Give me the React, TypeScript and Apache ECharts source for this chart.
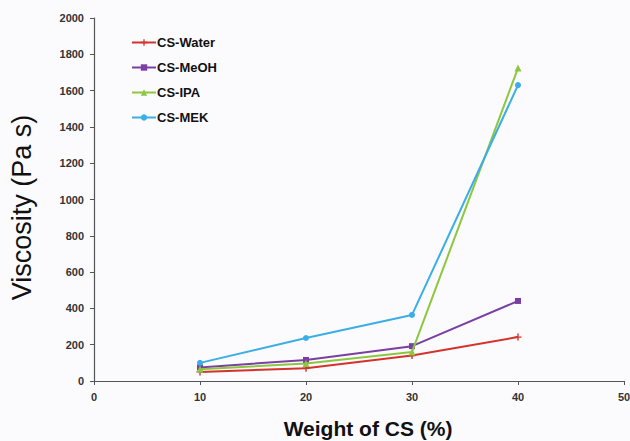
import React, { useEffect, useRef } from "react";
import * as echarts from "echarts";

const xValues = [10, 20, 30, 40];
const water = [50, 70, 140, 242];
const meoh = [75, 116, 192, 441];
const ipa = [65, 97, 160, 1724];
const mek = [100, 237, 364, 1630];
const seriesNames = ["CS-Water", "CS-MeOH", "CS-IPA", "CS-MEK"];
const seriesColors = ["#d4322c", "#7b3fa2", "#8dc63f", "#3aaee6"];

const plusPath = "path://M4,0 L6,0 L6,4 L10,4 L10,6 L6,6 L6,10 L4,10 L4,6 L0,6 L0,4 L4,4 Z";

export default function App() {
  const ref = useRef<HTMLDivElement>(null);
  useEffect(() => {
    if (!ref.current) return;
    const chart = echarts.init(ref.current, null, { renderer: "svg" });
    const datasets = [water, meoh, ipa, mek];
    const symbols = [plusPath, "rect", "triangle", "circle"];
    const sizes = [7, 6, 7, 6];
    chart.setOption({
      animation: false,
      backgroundColor: "#fbfbfd",
      textStyle: { fontFamily: "'Liberation Sans', Arial, sans-serif" },
      grid: { left: 94, right: 6, top: 18, bottom: 60, outerBoundsMode: "none", containLabel: false },
      legend: {
        orient: "vertical",
        left: 126,
        top: 31,
        itemGap: 12,
        itemWidth: 24,
        itemHeight: 8,
        data: seriesNames,
        textStyle: { fontSize: 13, fontWeight: "bold", color: "#111", padding: [0, 0, 0, -4] },
      },
      xAxis: {
        type: "value",
        min: 0,
        max: 50,
        interval: 10,
        name: "Weight of CS (%)",
        nameLocation: "middle",
        nameGap: 37,
        nameTextStyle: { fontSize: 21, fontWeight: "bold", color: "#111", padding: [0, 0, 0, 18] },
        axisLine: { lineStyle: { color: "#555", width: 1.2 } },
        axisTick: { show: true, inside: false, length: 4, lineStyle: { color: "#555" } },
        axisLabel: { fontSize: 11, fontWeight: "bold", color: "#333", margin: 10 },
        splitLine: { show: false },
      },
      yAxis: {
        type: "value",
        min: 0,
        max: 2000,
        interval: 200,
        name: "Viscosity (Pa s)",
        nameLocation: "middle",
        nameGap: 59,
        nameTextStyle: { fontSize: 27, color: "#111", padding: [0, 16, 0, 0] },
        axisLine: { show: true, lineStyle: { color: "#555", width: 1.2 } },
        axisTick: { show: true, inside: false, length: 4, lineStyle: { color: "#555" } },
        axisLabel: {
          fontSize: 11,
          fontWeight: "bold",
          color: "#333",
          margin: 10,
          formatter: (v: number) => String(v),
        },
        splitLine: { show: false },
      },
      series: datasets.map((d, i) => ({
        name: seriesNames[i],
        type: "line",
        data: xValues.map((x, j) => [x, d[j]]),
        symbol: symbols[i],
        symbolSize: sizes[i],
        showAllSymbol: true,
        lineStyle: { color: seriesColors[i], width: 2 },
        itemStyle: { color: seriesColors[i] },
        z: [2, 3, 4, 5][i],
      })),
    });
    return () => chart.dispose();
  }, []);
  return (
    <div
      ref={ref}
      style={{ position: "fixed", left: 0, top: 0, width: 630, height: 441 }}
    />
  );
}
